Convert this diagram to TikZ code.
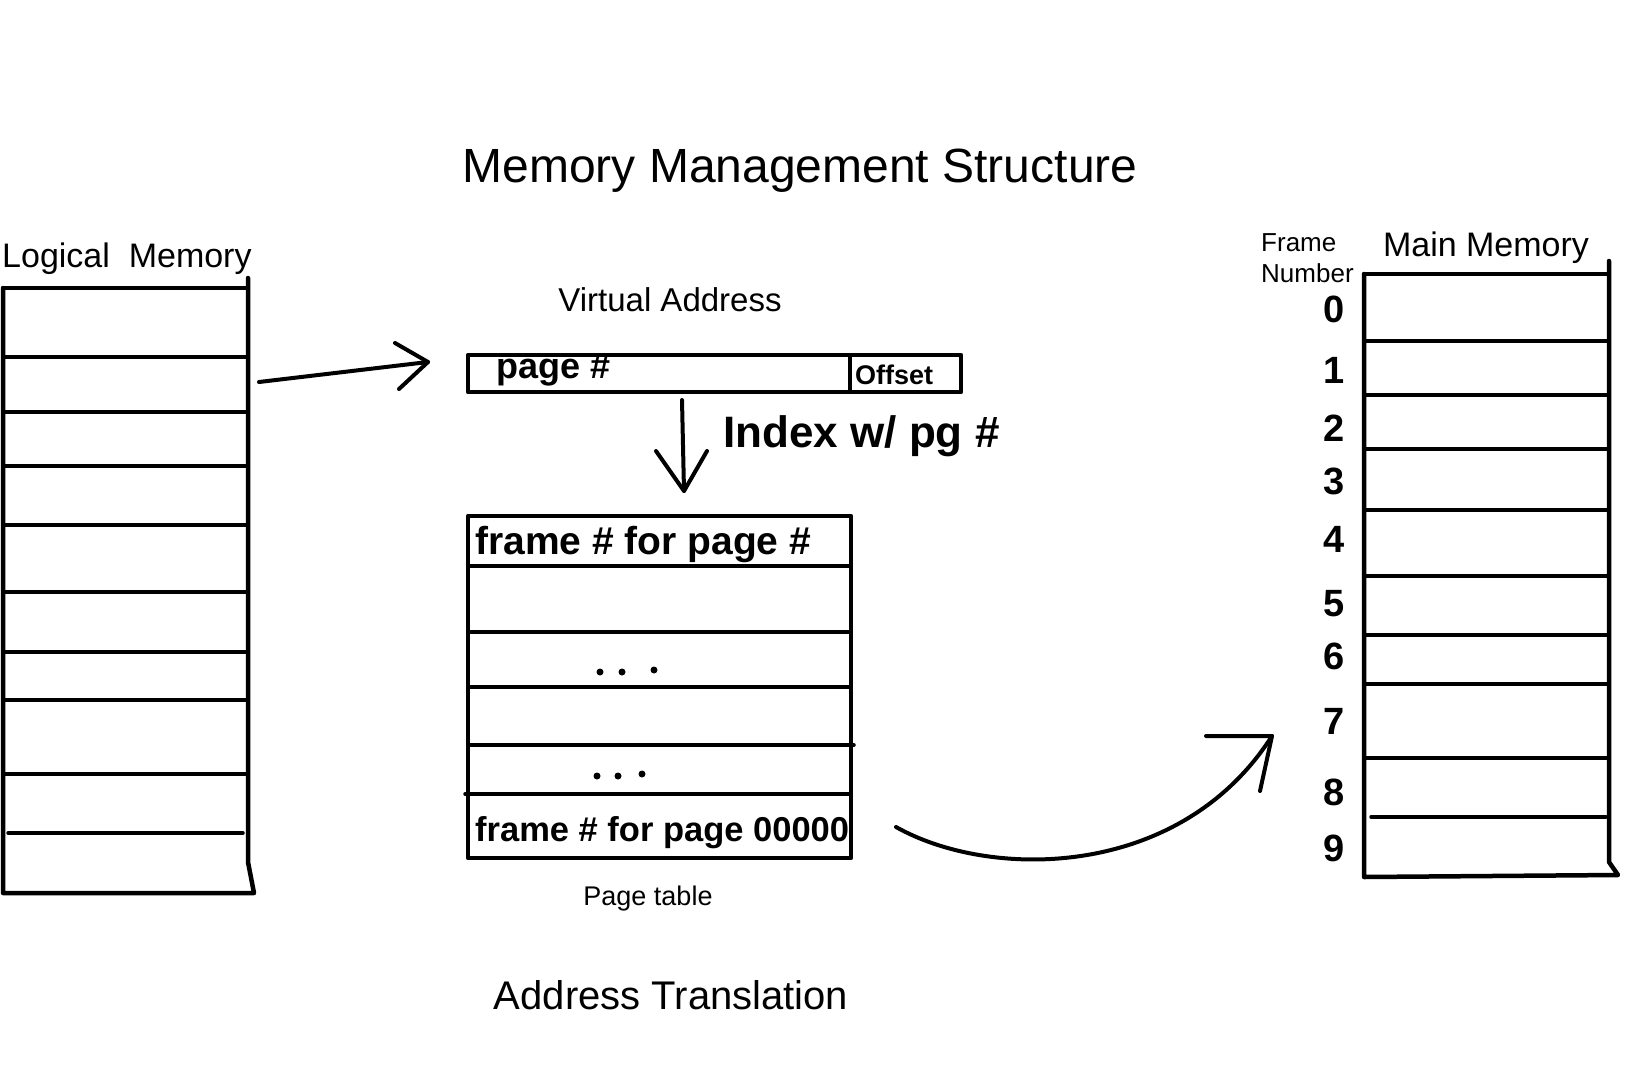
\documentclass[tikz,border=0pt]{standalone}
\usepackage{fontspec}
\setmainfont{Liberation Sans}
\begin{document}
\begin{tikzpicture}[x=1pt,y=-1pt,
  outer/.style={line width=4.5pt,line join=round,line cap=round},
  inner/.style={line width=3.5pt,line cap=round},
  pen/.style={line width=4pt,line cap=round,line join=round},
  lbl/.style={inner sep=0pt,anchor=base},
  hand/.style={inner sep=0pt,anchor=base west,font=\bfseries},
  digit/.style={inner sep=0pt,font=\bfseries\fontsize{38}{44}\selectfont},
  dot/.style={fill=black,circle,inner sep=0pt,minimum size=7pt}]
\useasboundingbox (0,0) rectangle (1638,1068);
\fill[white] (0,0) rectangle (1638,1068);

% titles
\node[lbl,font=\fontsize{48}{58}\selectfont] (title) at (800,182) {Memory Management Structure};
\node[lbl,font=\fontsize{40}{48}\selectfont] (addrtr) at (671,1009) {Address Translation};

% ---------------- Logical memory ----------------
\node[lbl,anchor=base west,font=\fontsize{34}{40}\selectfont] (lmlabel) at (2,267) {Logical\ \ Memory};
\coordinate (lmTL) at (3,288);
\coordinate (lmBL) at (3,893);
\coordinate (lmTR) at (248,278);
\coordinate (lmSR) at (248,862);
\coordinate (lmBR) at (254,893);
\draw[outer] (lmTL) -- (lmBL) -- (lmBR) -- (lmSR) -- (lmTR);
\draw[inner] (lmTL) -- (248,288);
\foreach \yy in {357,412,466,525,592,652,700,774}
  \draw[inner] (3,\yy) -- (248,\yy);
\draw[inner] (8,833) -- (243,833);

% ---------------- Virtual address ----------------
\node[lbl,font=\fontsize{33}{40}\selectfont] (valabel) at (670,311) {Virtual Address};
\coordinate (vaTL) at (468,355);
\coordinate (vaBR) at (961,392);
\draw[outer] (vaTL) rectangle (vaBR);
\draw[inner] (850,355) -- (850,392);
\node[hand,font=\bfseries\fontsize{36}{42}\selectfont] (pagenum) at (496,378) {page \#};
\node[hand,font=\bfseries\fontsize{27}{32}\selectfont] (offset) at (855,384) {Offset};

% arrow logical -> virtual address
\coordinate (a1s) at (259,382);
\coordinate (a1e) at (428,362);
\coordinate (a1h1) at (395,343);
\coordinate (a1h2) at (399,389);
\draw[pen] (a1s) -- (a1e);
\draw[pen] (a1h1) -- (a1e) -- (a1h2);

% down arrow
\coordinate (a2s) at (682,400);
\coordinate (a2e) at (684,491);
\coordinate (a2h1) at (656,451);
\coordinate (a2h2) at (707,451);
\draw[pen] (a2s) -- (a2e);
\draw[pen] (a2h1) -- (a2e) -- (a2h2);
\node[hand,font=\bfseries\fontsize{44}{50}\selectfont] (index) at (723,447) {Index w/ pg \#};

% ---------------- Page table ----------------
\coordinate (ptTL) at (468,516);
\coordinate (ptBR) at (851,858);
\draw[outer] (ptTL) rectangle (ptBR);
\foreach \yy in {566,632,687}
  \draw[inner] (468,\yy) -- (851,\yy);
\draw[inner] (468,745) -- (854,745);
\draw[inner] (465,794) -- (851,794);
\node[hand,font=\bfseries\fontsize{39}{46}\selectfont] (row1) at (475,554) {frame \# for page \#};
\node[hand,font=\bfseries\fontsize{34.5}{40}\selectfont] (rowlast) at (475,841) {frame \# for page 00000};
\node[dot] (d1) at (600,672) {};
\node[dot] (d2) at (622,672) {};
\node[dot] (d3) at (654,670) {};
\node[dot] (d4) at (597,776) {};
\node[dot] (d5) at (618,776) {};
\node[dot] (d6) at (642,774) {};
\node[lbl,font=\fontsize{27}{32}\selectfont] (ptlabel) at (648,905) {Page table};

% curved arrow page table -> main memory
\coordinate (a3s) at (896,827);
\coordinate (a3e) at (1272,736);
\coordinate (a3h1) at (1206,736);
\coordinate (a3h2) at (1260,791);
\draw[pen] (a3s) .. controls (990,880) and (1180,880) .. (a3e);
\draw[pen] (a3h1) -- (a3e) -- (a3h2);

% ---------------- Main memory ----------------
\node[lbl,font=\fontsize{34}{40}\selectfont] (mmlabel) at (1486,256) {Main Memory};
\node[lbl,anchor=base west,font=\fontsize{26}{30}\selectfont] (fr) at (1261,251) {Frame};
\node[lbl,anchor=base west,font=\fontsize{26}{30}\selectfont] (nb) at (1261,282) {Number};
\coordinate (mmTL) at (1364,274);
\coordinate (mmBL) at (1364,877);
\coordinate (mmTR) at (1609,261);
\coordinate (mmSR) at (1609,862);
\coordinate (mmBR) at (1618,875);
\draw[outer] (mmTL) -- (mmBL) -- (mmBR) -- (mmSR) -- (mmTR);
\draw[inner] (mmTL) -- (1609,274);
\foreach \yy in {341,395,449,510,576,635,684,758}
  \draw[inner] (1364,\yy) -- (1609,\yy);
\draw[inner] (1371,817) -- (1606,817);

\foreach \d/\yy in {0/309,1/370,2/428,3/481,4/539,5/604,6/656,7/721,8/792,9/848}
  \node[digit] (f\d) at (1334,\yy) {\d};
\end{tikzpicture}
\end{document}
